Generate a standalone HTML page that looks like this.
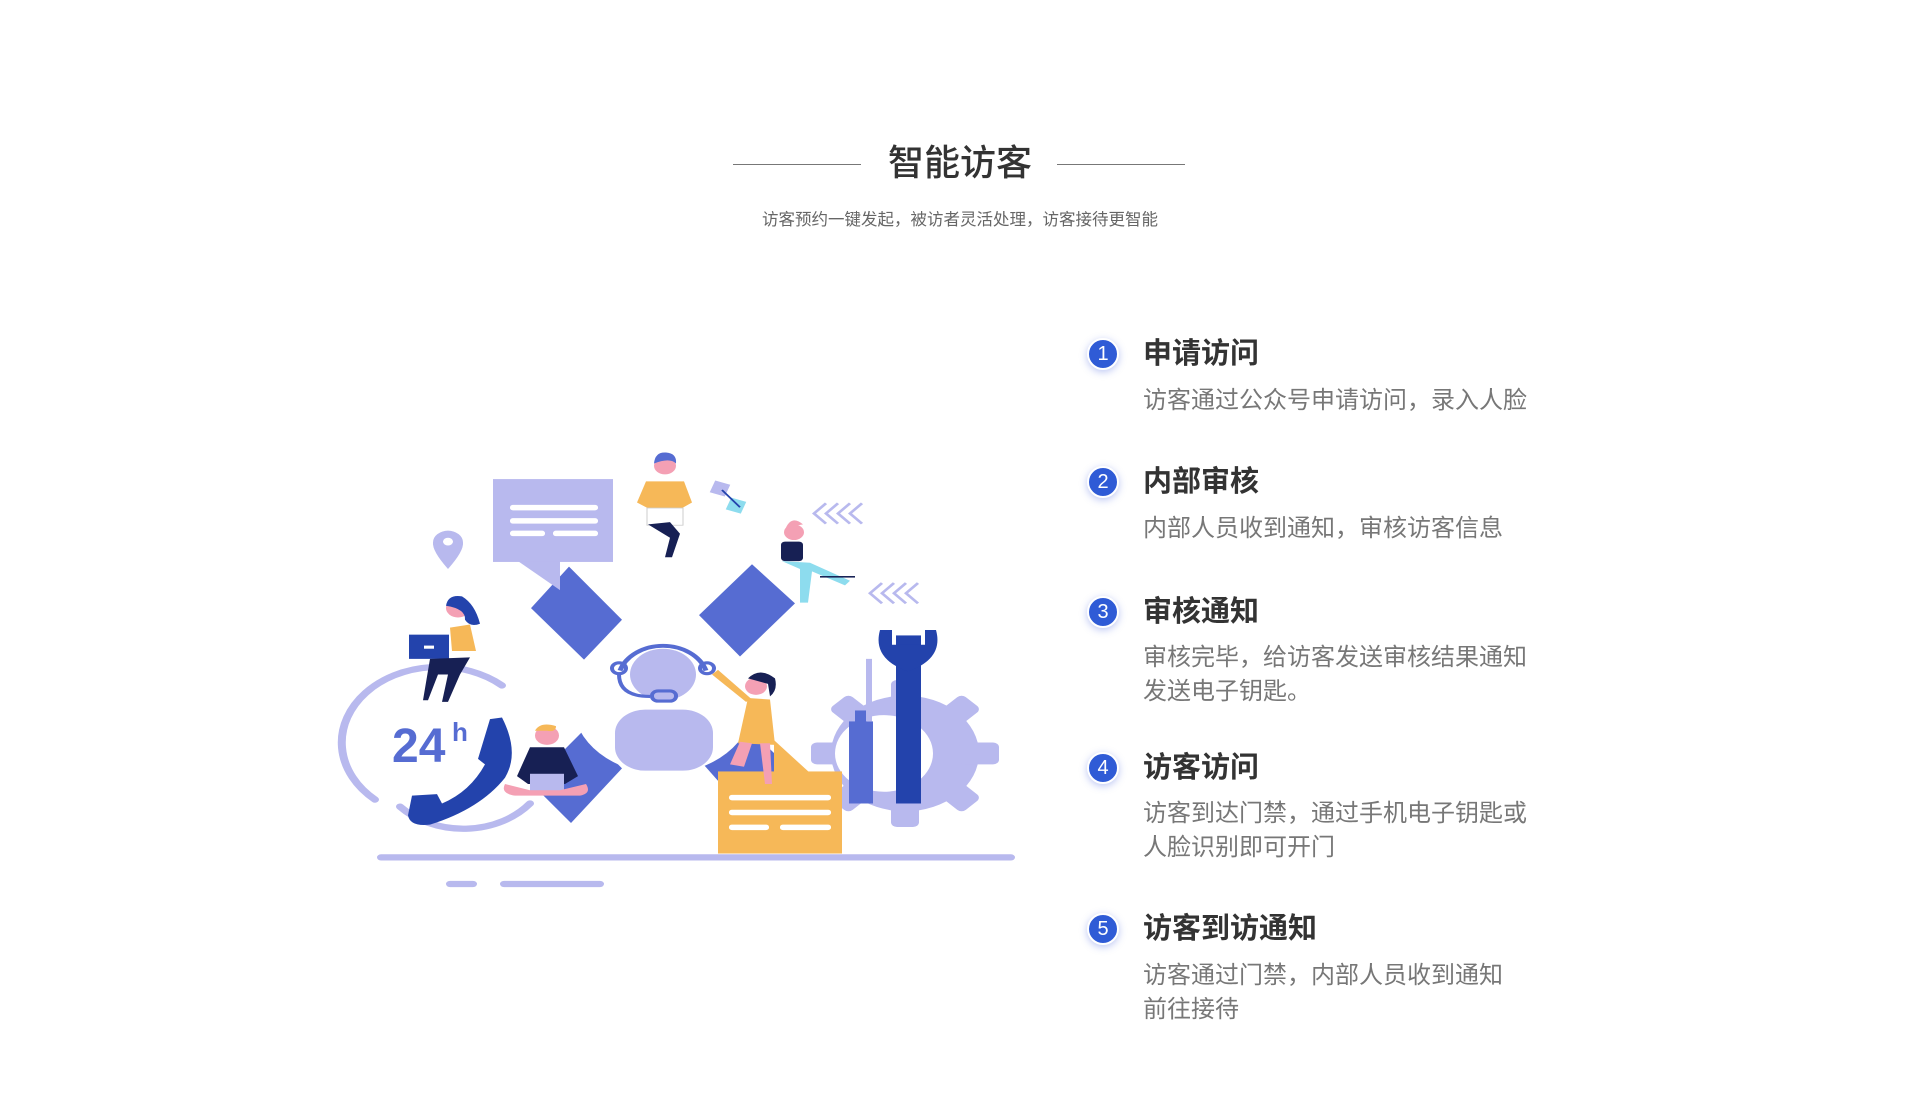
<!DOCTYPE html>
<html><head><meta charset="utf-8"><style>
html,body{margin:0;padding:0;background:#fff;}
body{width:1920px;height:1114px;position:relative;overflow:hidden;font-family:"Liberation Sans","Noto Sans CJK SC",sans-serif;}
.abs{position:absolute;white-space:nowrap;}
.title{left:0;width:1920px;text-align:center;top:141px;font-size:36px;color:#333;line-height:44px;font-weight:500;}
.line{position:absolute;top:164px;height:1px;background:#777;width:128px;}
.sub{left:0;width:1920px;text-align:center;top:209px;font-size:16.5px;color:#666;line-height:22px;}
.num{position:absolute;width:28px;height:28px;border-radius:50%;background:#2f5bd6;color:#fff;font-size:20px;line-height:28px;text-align:center;border:2px solid #fff;box-shadow:0 2px 8px rgba(60,90,220,0.35);}
.it{position:absolute;left:1143px;font-size:29px;color:#333;font-weight:bold;line-height:36px;white-space:nowrap;}
.de{position:absolute;left:1143px;font-size:24px;color:#777;line-height:34px;white-space:nowrap;}
</style></head><body>
<div class="line" style="left:733px"></div>
<div class="line" style="left:1057px"></div>
<div class="abs title">智能访客</div>
<div class="abs sub">访客预约一键发起，被访者灵活处理，访客接待更智能</div>

<div class="num" style="left:1087px;top:338px">1</div>
<div class="it" style="top:336px">申请访问</div>
<div class="de" style="top:384px">访客通过公众号申请访问，录入人脸</div>

<div class="num" style="left:1087px;top:466px">2</div>
<div class="it" style="top:464px">内部审核</div>
<div class="de" style="top:512px">内部人员收到通知，审核访客信息</div>

<div class="num" style="left:1087px;top:596px">3</div>
<div class="it" style="top:594px">审核通知</div>
<div class="de" style="top:641px">审核完毕，给访客发送审核结果通知<br>发送电子钥匙。</div>

<div class="num" style="left:1087px;top:752px">4</div>
<div class="it" style="top:750px">访客访问</div>
<div class="de" style="top:797px">访客到达门禁，通过手机电子钥匙或<br>人脸识别即可开门</div>

<div class="num" style="left:1087px;top:913px">5</div>
<div class="it" style="top:911px">访客到访通知</div>
<div class="de" style="top:959px">访客通过门禁，内部人员收到通知<br>前往接待</div>

<svg width="1920" height="1114" style="position:absolute;left:0;top:0" xmlns="http://www.w3.org/2000/svg">
<g transform="translate(0,440) scale(1,0.7817) translate(0,-440)">
<g fill="#b8b9ee">
<circle cx="905" cy="841" r="74"/>
<g transform="translate(905,841)">
<rect x="-14" y="-94" width="28" height="40" rx="6"/>
<rect x="-14" y="-94" width="28" height="40" rx="6" transform="rotate(45)"/>
<rect x="-14" y="-94" width="28" height="40" rx="6" transform="rotate(90)"/>
<rect x="-14" y="-94" width="28" height="40" rx="6" transform="rotate(135)"/>
<rect x="-14" y="-94" width="28" height="40" rx="6" transform="rotate(180)"/>
<rect x="-14" y="-94" width="28" height="40" rx="6" transform="rotate(-45)"/>
<rect x="-14" y="-94" width="28" height="40" rx="6" transform="rotate(-90)"/>
<rect x="-14" y="-94" width="28" height="40" rx="6" transform="rotate(-135)"/>
</g></g>
<circle cx="884" cy="841" r="49" fill="#fff"/>
<rect x="849" y="800" width="24" height="105" fill="#566cd2"/>
<rect x="855" y="786" width="12" height="20" fill="#566cd2"/>
<rect x="866" y="720" width="6" height="80" fill="#b8b9ee"/>
<rect x="896" y="690" width="25" height="215" fill="#2343ac"/>
<path d="M880 683 Q872 720 908 736 Q944 720 936 683 L925 683 L925 702 L892 702 L892 683 Z" fill="#2343ac"/>
<g fill="#566cd2">
<polygon points="531,655 569,602 622,670 584,721"/>
<polygon points="699,664 752,599 795,649 740,717"/>
<polygon points="531,879 584,811 622,860 571,930"/>
<polygon points="700,850 745,805 790,860 745,915"/>
</g>
<circle cx="663" cy="777" r="90" fill="#fff"/>
<circle cx="663" cy="740" r="33" fill="#b8b9ee"/>
<rect x="615" y="785" width="98" height="78" rx="30" fill="#b8b9ee"/>
<path d="M620 735 A45 45 0 0 1 706 735" fill="none" stroke="#566cd2" stroke-width="5"/>
<circle cx="619" cy="732" r="7" fill="none" stroke="#566cd2" stroke-width="4"/>
<circle cx="707" cy="732" r="7" fill="none" stroke="#566cd2" stroke-width="4"/>
<path d="M619 740 Q619 768 650 768" fill="none" stroke="#566cd2" stroke-width="4"/>
<rect x="652" y="761" width="24" height="13" rx="6" fill="none" stroke="#566cd2" stroke-width="4"/>
<rect x="493" y="490" width="120" height="106" fill="#b8b9ee"/>
<polygon points="518,595 560,595 560,632" fill="#b8b9ee"/>
<g fill="#fff"><rect x="510" y="523" width="88" height="7" rx="3"/><rect x="510" y="540" width="88" height="7" rx="3"/><rect x="510" y="556" width="35" height="7" rx="3"/><rect x="553" y="556" width="45" height="7" rx="3"/></g>
<path d="M448 605 Q432 582 433 571 A15 15 0 0 1 463 571 Q464 582 448 605 Z" fill="#b8b9ee"/>
<circle cx="448" cy="570" r="5" fill="#fff"/>
<path d="M375 900 A85 85 0 0 1 502 754" fill="none" stroke="#b8b9ee" stroke-width="8" stroke-linecap="round"/>
<path d="M400 909 A85 85 0 0 0 530 905" fill="none" stroke="#b8b9ee" stroke-width="8" stroke-linecap="round"/>
<path d="M490 797 L502 795 Q520 840 505 872 Q480 912 430 932 Q410 935 408 920 L412 895 L437 893 L442 905 Q470 890 485 855 L478 848 Z" fill="#2343ac"/>
<rect x="377" y="970" width="638" height="8" rx="4" fill="#b8b9ee"/>
<rect x="446" y="1004" width="31" height="8" rx="4" fill="#b8b9ee"/>
<rect x="500" y="1004" width="104" height="8" rx="4" fill="#b8b9ee"/>
<rect x="718" y="864" width="124" height="105" fill="#f6b858"/>
<polygon points="774,824 774,866 810,866" fill="#f6b858"/>
<g fill="#fff"><rect x="729" y="894" width="102" height="7" rx="3"/><rect x="729" y="913" width="102" height="7" rx="3"/><rect x="729" y="932" width="40" height="7" rx="3"/><rect x="780" y="932" width="51" height="7" rx="3"/></g>
<g fill="none" stroke="#b8b9ee" stroke-width="3">
<path d="M826 521 L814 534 L826 547 M838 521 L826 534 L838 547 M850 521 L838 534 L850 547 M862 521 L850 534 L862 547"/>
<path d="M882 623 L870 636 L882 649 M894 623 L882 636 L894 649 M906 623 L894 636 L906 649 M918 623 L906 636 L918 649"/>
</g>
<rect x="712" y="494" width="16" height="16" fill="#b8b9ee" transform="rotate(20 720 502)"/>
<rect x="728" y="516" width="16" height="16" fill="#8ddcee" transform="rotate(20 736 524)"/>
<line x1="722" y1="504" x2="740" y2="526" stroke="#2343ac" stroke-width="2"/>
<circle cx="665" cy="473" r="11" fill="#f4a0b4"/><path d="M654 470 Q655 455 666 456 Q677 457 676 470 Q670 462 654 470Z" fill="#566cd2"/>
<path d="M646 493 L684 493 L692 520 L678 530 L652 530 L637 520 Z" fill="#f6b858"/>
<rect x="647" y="527" width="36" height="22" fill="#fff" stroke="#ccc"/>
<path d="M648 548 L670 565 L665 590 L672 590 L680 560 L670 545 Z" fill="#172054"/>
<circle cx="458" cy="655" r="12" fill="#f4a0b4"/><path d="M446 652 Q448 637 462 640 Q475 650 480 675 Q470 680 465 670 Q466 656 446 652Z" fill="#2343ac"/>
<path d="M450 680 L470 676 L476 710 L452 710Z" fill="#f6b858"/>
<rect x="409" y="689" width="40" height="31" fill="#2343ac"/>
<rect x="424" y="703" width="10" height="4" fill="#fff"/>
<path d="M430 720 L470 718 L460 740 L448 775 L442 775 L448 740 L438 740 L428 773 L423 773 Z" fill="#172054"/>
<circle cx="794" cy="558" r="10" fill="#f4a0b4"/><path d="M786 552 Q792 536 803 548 Z" fill="#f4a0b4"/>
<rect x="781" y="570" width="22" height="25" rx="4" fill="#172054"/>
<path d="M782 595 L810 597 L850 620 L845 626 L812 608 L808 648 L800 648 L800 605 Z" fill="#8ddcee"/>
<rect x="820" y="614" width="35" height="2" fill="#172054"/>
<circle cx="756" cy="755" r="11" fill="#f4a0b4"/><path d="M748 745 Q760 730 775 745 Q778 760 770 768 L768 752 Z" fill="#172054"/>
<path d="M712 740 L746 775 L752 772 L718 734 Z" fill="#f6b858"/>
<path d="M748 770 L770 772 L775 830 L738 828 Z" fill="#f6b858"/>
<path d="M740 826 L730 855 L744 858 L752 828 Z M760 828 L765 880 L772 880 L770 828Z" fill="#f4a0b4"/>
<circle cx="547" cy="818" r="12" fill="#f4a0b4"/><path d="M535 812 Q540 800 556 806 Q556 814 547 812Z" fill="#f6b858"/>
<path d="M530 833 L564 833 L578 870 L565 880 L528 880 L517 870Z" fill="#172054"/>
<rect x="530" y="867" width="34" height="24" fill="#b8b9ee"/>
<path d="M505 880 Q500 892 515 895 L580 895 Q592 892 586 880 L560 888 L530 888Z" fill="#f4a0b4"/>
</g>
<text x="392" y="762" font-family="Liberation Sans,sans-serif" font-weight="bold" font-size="48" fill="#566cd2">24</text>
<text x="452" y="741" font-family="Liberation Sans,sans-serif" font-weight="bold" font-size="26" fill="#566cd2">h</text>
</svg>
</body></html>
